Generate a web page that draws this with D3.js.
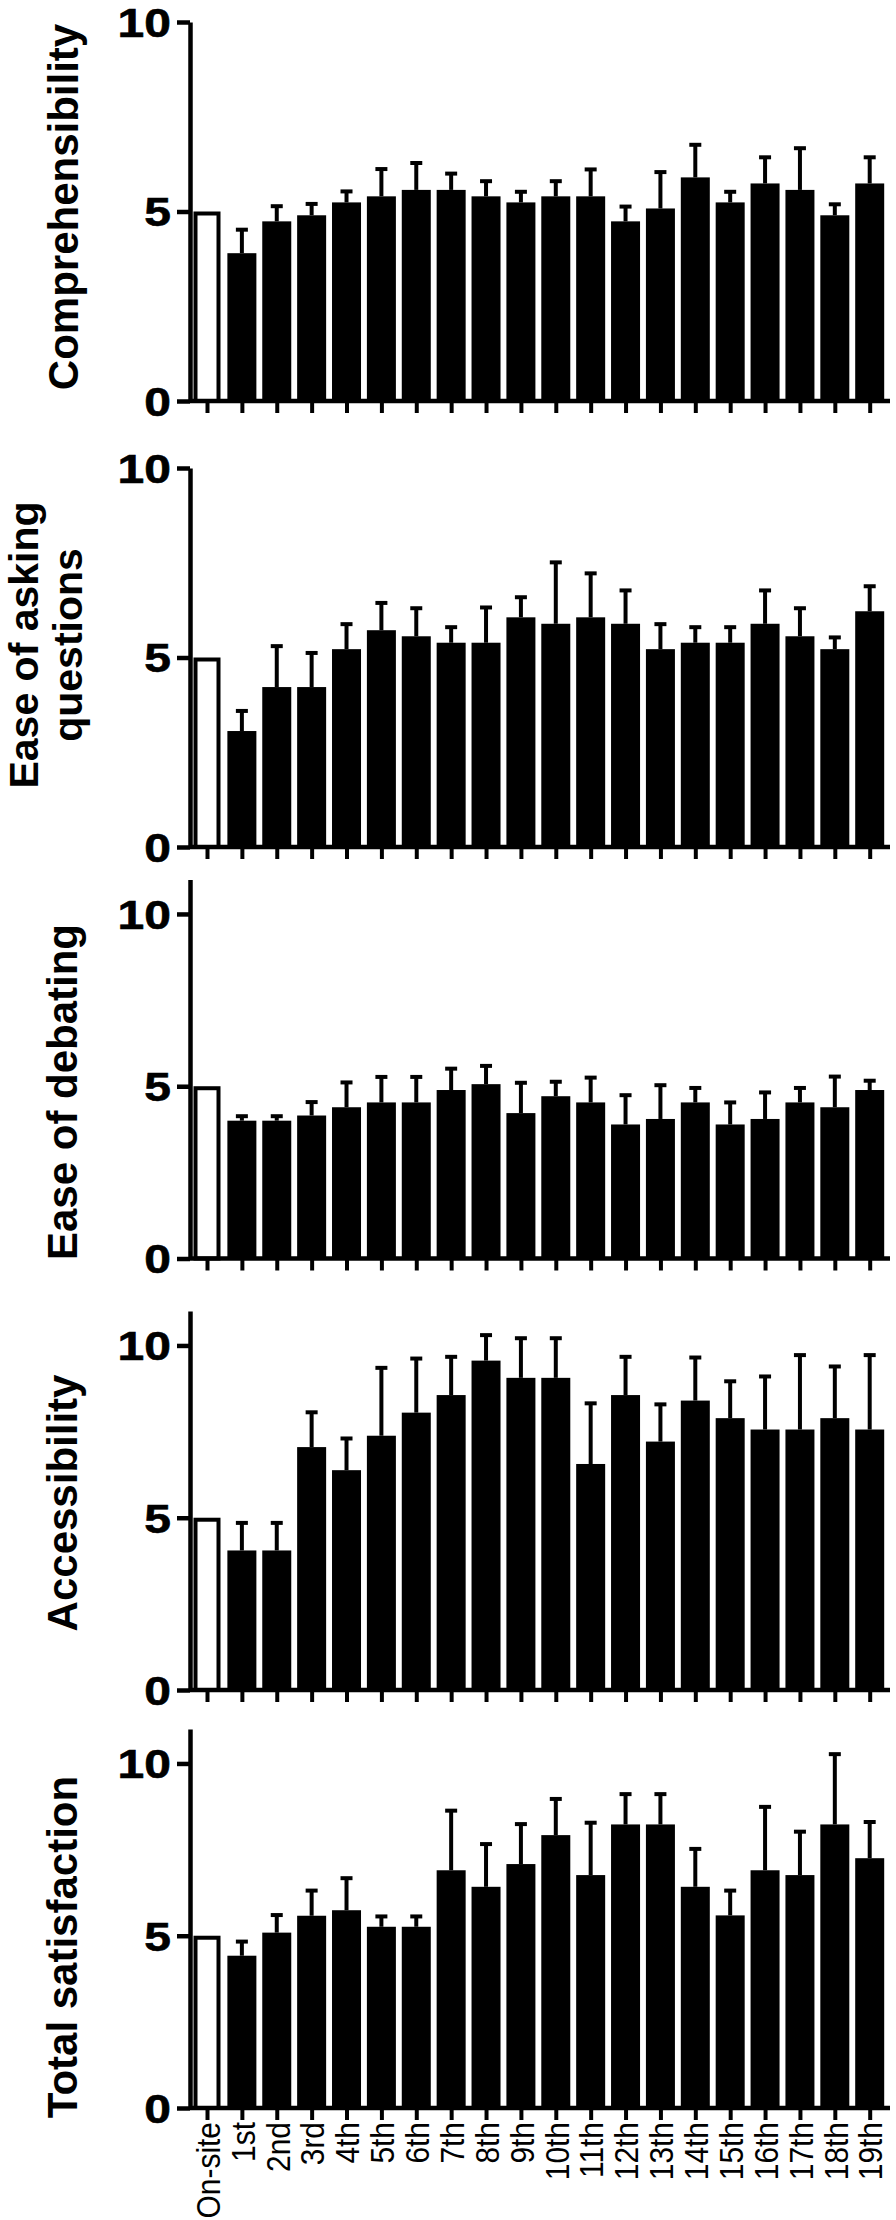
<!DOCTYPE html>
<html>
<head>
<meta charset="utf-8">
<script src="https://cdn.jsdelivr.net/npm/d3@7"></script>
<style>
  body { margin: 0; background: #fff; }
  text { font-family: "Liberation Sans", Arial, Helvetica, sans-serif; }
</style>
</head>
<body>
<script>
// sessions on the x axis
var sessions = ["On-site","1st","2nd","3rd","4th","5th","6th","7th","8th","9th",
  "10th","11th","12th","13th","14th","15th","16th","17th","18th","19th"];

// mean scores (On-site is the reference, always 5)
var comprehMean = [5, 3.90, 4.74, 4.90, 5.24, 5.40, 5.57, 5.57, 5.40, 5.24, 5.40, 5.40, 4.74, 5.08, 5.90, 5.24, 5.74, 5.57, 4.90, 5.74];
var comprehSD   = [0, 0.62, 0.40, 0.30, 0.29, 0.72, 0.71, 0.43, 0.40, 0.28, 0.40, 0.71, 0.39, 0.96, 0.86, 0.28, 0.69, 1.10, 0.29, 0.69];

var askingMean = [5, 3.06, 4.22, 4.22, 5.22, 5.72, 5.56, 5.39, 5.39, 6.06, 5.89, 6.06, 5.89, 5.22, 5.39, 5.39, 5.89, 5.56, 5.22, 6.22];
var askingSD   = [0, 0.53, 1.08, 0.90, 0.66, 0.72, 0.74, 0.41, 0.93, 0.53, 1.62, 1.16, 0.88, 0.66, 0.41, 0.41, 0.88, 0.74, 0.31, 0.66];

var debatingMean = [5, 4.00, 4.00, 4.15, 4.39, 4.53, 4.53, 4.89, 5.06, 4.22, 4.71, 4.53, 3.89, 4.05, 4.53, 3.89, 4.05, 4.53, 4.39, 4.89];
var debatingSD   = [0, 0.13, 0.13, 0.39, 0.72, 0.74, 0.74, 0.62, 0.53, 0.88, 0.42, 0.72, 0.85, 0.98, 0.42, 0.64, 0.77, 0.42, 0.89, 0.27];

var accessMean = [5, 4.05, 4.05, 7.05, 6.38, 7.38, 8.05, 8.56, 9.56, 9.06, 9.06, 6.56, 8.56, 7.21, 8.40, 7.89, 7.56, 7.56, 7.89, 7.56];
var accessSD   = [0, 0.80, 0.80, 1.01, 0.92, 1.97, 1.57, 1.11, 0.74, 1.15, 1.15, 1.76, 1.11, 1.08, 1.25, 1.07, 1.54, 2.16, 1.50, 2.16];

var totalMean = [5, 4.42, 5.09, 5.58, 5.74, 5.26, 5.26, 6.90, 6.42, 7.08, 7.92, 6.76, 8.23, 8.23, 6.42, 5.59, 6.90, 6.76, 8.23, 7.25];
var totalSD   = [0, 0.41, 0.51, 0.73, 0.93, 0.30, 0.30, 1.73, 1.24, 1.16, 1.05, 1.52, 0.88, 0.88, 1.10, 0.72, 1.84, 1.26, 2.04, 1.05];

var yTicks = [0, 5, 10];

var panels = [
  {title: ["Comprehensibility"], mean: comprehMean, sd: comprehSD, max: 10},
  {title: ["Ease of asking", "questions"], mean: askingMean, sd: askingSD, max: 10},
  {title: ["Ease of debating"], mean: debatingMean, sd: debatingSD, max: 11},
  {title: ["Accessibility"], mean: accessMean, sd: accessSD, max: 11},
  {title: ["Total satisfaction"], mean: totalMean, sd: totalSD, max: 11}
];

// layout (pixels)
var width = 896, height = 2220;
var plotH = 379;
var axisX = 190, axisEnd = 890;
var barW = 29, capW = 12, lw = 4.5;
var layout = [
  {y0: 401,    titleX: [78],     titleY: 207,  titleSize: 42},
  {y0: 847,    titleX: [38, 82], titleY: 645,  titleSize: 41},
  {y0: 1258.5, titleX: [77],     titleY: 1092, titleSize: 42},
  {y0: 1690,   titleX: [77],     titleY: 1503, titleSize: 42},
  {y0: 2108,   titleX: [77],     titleY: 1947, titleSize: 42}
];

var svg = d3.select("body").append("svg")
  .attr("width", width)
  .attr("height", height);

var x = d3.scalePoint().domain(sessions).range([207, 869.7]);

panels.forEach(function(p, pi){
  var lay = layout[pi];
  var y = d3.scaleLinear().domain([0, p.max]).range([lay.y0, lay.y0 - plotH]);
  var g = svg.append("g");

  var rows = sessions.map(function(s, i){ return {name: s, mean: p.mean[i], sd: p.sd[i], i: i}; });

  // bars
  g.selectAll("rect.bar").data(rows).join("rect")
    .attr("class", "bar")
    .attr("x", function(d){ return d.i === 0 ? x(d.name) - 13.5 + 2 : x(d.name) - barW/2; })
    .attr("width", function(d){ return d.i === 0 ? 23 : barW; })
    .attr("y", function(d){ return d.i === 0 ? y(d.mean) + 2 : y(d.mean); })
    .attr("height", function(d){ return d.i === 0 ? y(0) - y(d.mean) - 2 : y(0) - y(d.mean); })
    .attr("fill", function(d){ return d.i === 0 ? "#fff" : "#000"; })
    .attr("stroke", function(d){ return d.i === 0 ? "#000" : "none"; })
    .attr("stroke-width", 4);

  // error bars (upper SD only)
  var err = rows.filter(function(d){ return d.sd > 0; });
  g.selectAll("line.stem").data(err).join("line")
    .attr("x1", function(d){ return x(d.name); })
    .attr("x2", function(d){ return x(d.name); })
    .attr("y1", function(d){ return y(d.mean); })
    .attr("y2", function(d){ return y(d.mean + d.sd); })
    .attr("stroke", "#000").attr("stroke-width", 4);
  g.selectAll("line.cap").data(err).join("line")
    .attr("x1", function(d){ return x(d.name) - capW/2; })
    .attr("x2", function(d){ return x(d.name) + capW/2; })
    .attr("y1", function(d){ return y(d.mean + d.sd); })
    .attr("y2", function(d){ return y(d.mean + d.sd); })
    .attr("stroke", "#000").attr("stroke-width", 4);

  // y axis
  var ya = g.append("g")
    .attr("transform", "translate(" + axisX + ",0)")
    .call(d3.axisLeft(y).tickValues(yTicks).tickSize(13).tickSizeOuter(0));
  ya.select(".domain").attr("stroke-width", lw);
  ya.selectAll(".tick line").attr("stroke-width", lw);
  ya.selectAll(".tick text")
    .attr("x", -19 / 1.2)
    .attr("dy", "0.36em")
    .attr("transform", "scale(1.2,1)")
    .attr("font-size", 40)
    .attr("font-weight", "bold")
    .attr("fill", "#000")
    .attr("stroke", "#000")
    .attr("stroke-width", 0.6);

  // x axis line
  g.append("line")
    .attr("x1", axisX).attr("x2", axisEnd)
    .attr("y1", lay.y0).attr("y2", lay.y0)
    .attr("stroke", "#000").attr("stroke-width", lw);

  var last = pi === panels.length - 1;
  var xa = g.append("g")
    .attr("transform", "translate(0," + lay.y0 + ")")
    .call(d3.axisBottom(x).tickSize(12).tickSizeOuter(0).tickFormat(last ? null : function(){ return ""; }));
  xa.select(".domain").remove();
  xa.selectAll(".tick line").attr("stroke-width", 4);
  xa.selectAll(".tick text")
    .attr("transform", "rotate(-90) scale(0.88,1)")
    .attr("text-anchor", "end")
    .attr("x", -14 / 0.88)
    .attr("y", 0)
    .attr("dy", "0.36em")
    .attr("font-size", 34)
    .attr("fill", "#000");

  // y title
  p.title.forEach(function(t, ti){
    g.append("text")
      .attr("transform", "translate(" + lay.titleX[ti] + "," + lay.titleY + ") rotate(-90)")
      .attr("text-anchor", "middle")
      .attr("font-size", lay.titleSize)
      .attr("font-weight", "bold")
      .text(t);
  });
});
</script>
</body>
</html>
